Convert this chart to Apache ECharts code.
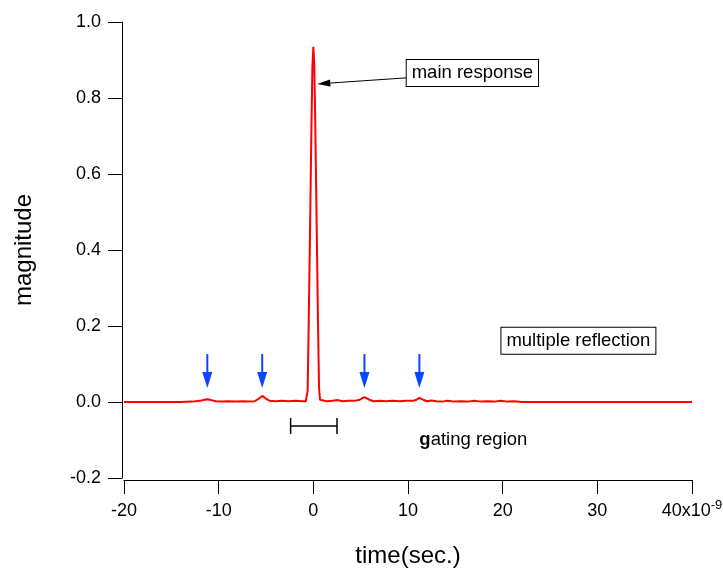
<!DOCTYPE html>
<html>
<head>
<meta charset="utf-8">
<script src="https://cdn.jsdelivr.net/npm/echarts@6/dist/echarts.min.js"></script>
<style>
  html, body { margin: 0; padding: 0; background: #fff; }
  #chart { width: 723px; height: 569px; }
</style>
</head>
<body>
<div id="chart"></div>
<script>
// Time-domain response: time in ns (axis shown as x10^-9 s) and magnitude
const timeNs = [
  -20, -14, -12.8, -12.0, -11.5, -11.2, -10.8, -10.3, -9.6, -9.0, -8.2, -7.5, -6.8, -6.2,
  -5.8, -5.4, -5.0, -4.6, -4.0, -3.3, -2.6, -1.9, -1.2, -0.8, -0.7, -0.6, -0.5, -0.4, -0.3,
  -0.2, -0.1, 0, 0.1, 0.2, 0.3, 0.4, 0.5, 0.6, 0.7, 0.9, 1.4, 2.0, 2.6, 3.1, 3.7, 4.3,
  4.9, 5.4, 5.9, 6.4, 7.0, 7.7, 8.4, 9.1, 9.8, 10.5, 10.9, 11.2, 11.6, 12.0, 12.5, 13.0,
  13.6, 14.2, 14.9, 15.6, 16.3, 17.0, 17.7, 18.4, 19.1, 19.8, 20.5, 21.2, 22, 40
];
const magnitude = [
  0, 0, 0.001, 0.003, 0.006, 0.007, 0.005, 0.002, 0.001, 0.002, 0.001, 0.002, 0.001, 0.002,
  0.008, 0.016, 0.009, 0.003, 0.002, 0.003, 0.002, 0.003, 0.002, 0.002, 0.004, 0.03, 0.19, 0.36, 0.54,
  0.72, 0.88, 0.935, 0.89, 0.74, 0.56, 0.38, 0.2, 0.04, 0.006, 0.003, 0.002, 0.003, 0.005, 0.002, 0.003, 0.003,
  0.006, 0.013, 0.006, 0.002, 0.003, 0.002, 0.003, 0.002, 0.003, 0.003, 0.006, 0.011, 0.006, 0.002, 0.004, 0.002,
  0.001, 0.003, 0.001, 0.002, 0.001, 0.003, 0.001, 0.002, 0.001, 0.003, 0.001, 0.002, 0, 0
];

// Reflection markers: arrow x positions, arrow tail and tip magnitudes
const reflectionTimes = [-11.2, -5.4, 5.4, 11.2];
const reflectionArrowTail = 0.126;
const reflectionArrowTip = 0.037;

// Pointer to the main peak: [tailX, tailY, tipX, tipY]
const mainPointer = [9.8, 0.853, 0.42, 0.837];

// Gating window: [start, end, level]
const gateWindow = [-2.4, 2.5, -0.063];

// Annotation text and anchors (data coordinates)
const noteTexts = ['main response', 'multiple reflection', 'gating region'];
const noteX = [16.8, 28.0, 11.2];
const noteY = [0.866, 0.161, -0.1];

const xTickMin = -20, xTickMax = 40, xTickStep = 10;
const yTickMin = -0.2, yTickMax = 1.0, yTickStep = 0.2;

const FONT = '"Liberation Sans", Arial, Helvetica, sans-serif';
const BLACK = '#000';
const RED = '#ff0000';
const BLUE = '#0b45ff';

const chart = echarts.init(document.getElementById('chart'), null, { renderer: 'canvas' });

function arrowRenderer(headLen, headHalf, color, width) {
  return function (params, api) {
    const a = api.coord([api.value(0), api.value(1)]);
    const b = api.coord([api.value(2), api.value(3)]);
    const dx = b[0] - a[0], dy = b[1] - a[1];
    const L = Math.hypot(dx, dy) || 1;
    const ux = dx / L, uy = dy / L;
    const bx = b[0] - ux * headLen, by = b[1] - uy * headLen;
    return {
      type: 'group',
      children: [
        { type: 'line', shape: { x1: a[0], y1: a[1], x2: bx + ux, y2: by + uy },
          style: { stroke: color, lineWidth: width } },
        { type: 'polygon',
          shape: { points: [[b[0], b[1]], [bx - uy * headHalf, by + ux * headHalf], [bx + uy * headHalf, by - ux * headHalf]] },
          style: { fill: color } }
      ]
    };
  };
}

const option = {
  animation: false,
  backgroundColor: '#fff',
  textStyle: { fontFamily: FONT },
  grid: { left: 124, right: 31, top: 22, bottom: 91, containLabel: false, outerBoundsMode: 'none' },
  xAxis: {
    type: 'value',
    min: xTickMin, max: xTickMax, interval: xTickStep,
    offset: 2,
    name: 'time(sec.)',
    nameLocation: 'middle',
    nameGap: 64,
    nameTextStyle: { fontSize: 24, color: BLACK, fontFamily: FONT },
    axisLine: { show: true, onZero: false, lineStyle: { color: BLACK, width: 1 } },
    axisTick: { show: true, inside: false, length: 14, lineStyle: { color: BLACK, width: 1 } },
    splitLine: { show: false },
    axisLabel: {
      color: BLACK, fontSize: 18, fontFamily: FONT, margin: 22,
      showMinLabel: true, showMaxLabel: true,
      formatter: function (v) {
        return v === xTickMax ? '{n|' + v + 'x10}{s|-9}' : String(v);
      },
      rich: {
        n: { fontSize: 18, lineHeight: 18, fontFamily: FONT, color: BLACK },
        s: { fontSize: 13, lineHeight: 6, fontFamily: FONT, color: BLACK, padding: [0, 0, 12, 0] }
      }
    }
  },
  yAxis: {
    type: 'value',
    min: yTickMin, max: yTickMax, interval: yTickStep,
    offset: 2,
    name: 'magnitude',
    nameLocation: 'middle',
    nameGap: 86,
    nameTextStyle: { fontSize: 24, color: BLACK, fontFamily: FONT },
    axisLine: { show: true, onZero: false, lineStyle: { color: BLACK, width: 1 } },
    axisTick: { show: true, inside: false, length: 14, lineStyle: { color: BLACK, width: 1 } },
    splitLine: { show: false },
    axisLabel: {
      color: BLACK, fontSize: 18, fontFamily: FONT, margin: 21,
      showMinLabel: true, showMaxLabel: true,
      formatter: function (v) { return v.toFixed(1); }
    }
  },
  series: [
    {
      name: 'response',
      type: 'line',
      data: timeNs.map((t, i) => [t, magnitude[i]]),
      showSymbol: false,
      symbol: 'none',
      lineStyle: { color: RED, width: 2 },
      itemStyle: { color: RED },
      z: 3
    },
    {
      name: 'reflection markers',
      type: 'custom',
      data: reflectionTimes.map(t => [t, reflectionArrowTail, t, reflectionArrowTip]),
      encode: { x: [0, 2], y: [1, 3] },
      renderItem: arrowRenderer(16, 5, BLUE, 2),
      z: 4
    },
    {
      name: 'main pointer',
      type: 'custom',
      data: [mainPointer],
      encode: { x: [0, 2], y: [1, 3] },
      renderItem: arrowRenderer(13, 3.5, BLACK, 1),
      z: 4
    },
    {
      name: 'gate',
      type: 'custom',
      data: [gateWindow],
      encode: { x: [0, 1], y: 2 },
      renderItem: function (params, api) {
        const a = api.coord([api.value(0), api.value(2)]);
        const b = api.coord([api.value(1), api.value(2)]);
        const cap = 8;
        const st = { stroke: BLACK, lineWidth: 1.5 };
        return {
          type: 'group',
          children: [
            { type: 'line', shape: { x1: a[0], y1: a[1], x2: b[0], y2: b[1] }, style: st },
            { type: 'line', shape: { x1: a[0], y1: a[1] - cap, x2: a[0], y2: a[1] + cap }, style: st },
            { type: 'line', shape: { x1: b[0], y1: b[1] - cap, x2: b[0], y2: b[1] + cap }, style: st }
          ]
        };
      },
      z: 4
    },
    {
      name: 'notes',
      type: 'custom',
      data: noteX.map((x, i) => [x, noteY[i]]),
      renderItem: function (params, api) {
        const p = api.coord([api.value(0), api.value(1)]);
        const i = params.dataIndex;
        if (i === 2) {
          return {
            type: 'text',
            x: p[0], y: p[1],
            style: {
              text: '{b|g}ating region',
              font: '18.5px ' + FONT,
              fill: BLACK,
              align: 'left', verticalAlign: 'middle',
              rich: { b: { fontWeight: 'bold', fontSize: 18.5, fontFamily: FONT, fill: BLACK } }
            }
          };
        }
        return {
          type: 'text',
          x: p[0], y: p[1],
          style: {
            text: noteTexts[i],
            font: '18.5px ' + FONT,
            fill: BLACK,
            align: 'center', verticalAlign: 'middle',
            backgroundColor: '#fff',
            borderColor: BLACK,
            borderWidth: 1,
            padding: [4, 5, 3, 5]
          }
        };
      },
      z: 5
    }
  ]
};

chart.setOption(option);
</script>
</body>
</html>
